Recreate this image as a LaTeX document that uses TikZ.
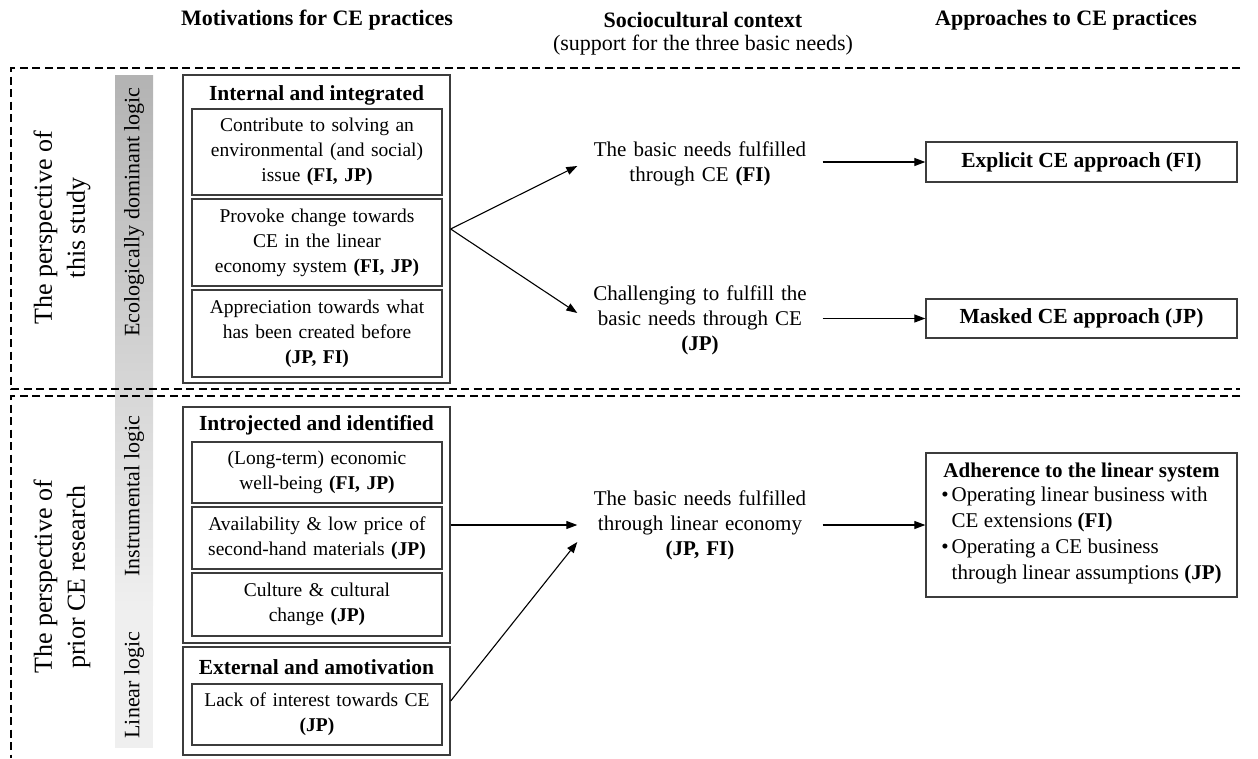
\documentclass[tikz,border=0pt]{standalone}
\usepackage{fontspec}
\setmainfont{Liberation Serif}
\usetikzlibrary{arrows.meta}
\definecolor{boxline}{HTML}{3C3C3C}
\definecolor{bartop}{HTML}{B3B3B3}
\definecolor{barbot}{HTML}{EFEFEF}
\begin{document}
\begin{tikzpicture}[x=1pt,y=-1pt,
  every node/.style={font=\fontsize{21}{25}\selectfont, inner sep=0pt},
  hdr/.style={font=\fontsize{22}{25}\selectfont\bfseries},
  frame/.style={line width=1.8pt, dash pattern=on 8pt off 4.5pt},
  outerbox/.style={draw=boxline, line width=1.3pt, minimum width=267pt},
  innerbox/.style={draw=boxline, line width=1.3pt, minimum width=250pt, text width=244pt, align=center, font=\fontsize{19.5}{25}\selectfont},
  ttl/.style={font=\fontsize{21.5}{25}\selectfont\bfseries},
  midtext/.style={text width=215pt, inner xsep=15pt, align=center},
  rbox/.style={draw=boxline, line width=1.3pt, minimum width=311pt, align=center},
  arr/.style={line width=1.1pt, -{Triangle[length=11pt,width=8pt]}},
  vlabel/.style={rotate=90, font=\fontsize{22}{25}\selectfont},
  persp/.style={rotate=90, align=center, font=\fontsize{26}{33}\selectfont}]
\useasboundingbox (0,0) rectangle (1258,758);
% headers
\node[hdr] (h1) at (317,20) {Motivations for CE practices};
\node[hdr] (h2) at (703,20) {Sociocultural context};
\node[font=\fontsize{22}{25}\selectfont] (h2b) at (703,45) {(support for the three basic needs)};
\node[hdr] (h3) at (1066,20) {Approaches to CE practices};
% grey bars
\shade[top color=bartop, bottom color=barbot] (115,75) rectangle (153,605);
\fill[barbot] (115,605) rectangle (153,748);
% dashed frames
\draw[frame] (1240,68) -- (11,68) -- (11,389) -- (1240,389);
\draw[frame] (1240,396) -- (11,396) -- (11,758);
% vertical labels
\node[vlabel] (l1) at (134,212) {Ecologically dominant logic};
\node[vlabel] (l2) at (134,496) {Instrumental logic};
\node[vlabel] (l3) at (134,685) {Linear logic};
\node[persp] (p1) at (62,228) {The perspective of\\this study};
\node[persp] (p2) at (62,577) {The perspective of\\prior CE research};
% left group 1
\node[outerbox, minimum height=308pt] (o1) at (316.5,229) {};
\node[ttl] (t1) at (316.5,95) {Internal and integrated};
\node[innerbox, minimum height=86pt] (b1) at (317,152) {Contribute to solving an\\environmental (and social)\\issue \textbf{(FI, JP)}};
\node[innerbox, minimum height=87pt] (b2) at (317,242.5) {Provoke change towards\\CE in the linear\\economy system \textbf{(FI, JP)}};
\node[innerbox, minimum height=87pt] (b3) at (317,333.5) {Appreciation towards what\\has been created before\\\textbf{(JP, FI)}};
% left group 2
\node[outerbox, minimum height=236pt] (o2) at (316.5,525) {};
\node[ttl] (t2) at (316.5,425) {Introjected and identified};
\node[innerbox, minimum height=61pt] (c1) at (317,472.5) {(Long-term) economic\\well-being \textbf{(FI, JP)}};
\node[innerbox, minimum height=62pt] (c2) at (317,538) {Availability \& low price of\\second-hand materials \textbf{(JP)}};
\node[innerbox, minimum height=63pt] (c3) at (317,604.5) {Culture \& cultural\\change \textbf{(JP)}};
% left group 3
\node[outerbox, minimum height=108pt] (o3) at (316.5,701) {};
\node[ttl] (t3) at (316.5,667) {External and amotivation};
\node[innerbox, minimum height=61pt] (d1) at (317,714.5) {Lack of interest towards CE\\\textbf{(JP)}};
% middle texts
\node[midtext] (m1) at (700,164) {The basic needs fulfilled\\through CE \textbf{(FI)}};
\node[midtext] (m2) at (700,320) {Challenging to fulfill the\\basic needs through CE\\\textbf{(JP)}};
\node[midtext] (m3) at (700,525) {The basic needs fulfilled\\through linear economy\\\textbf{(JP, FI)}};
% right boxes
\node[rbox, minimum height=40pt, font=\fontsize{21.5}{25}\selectfont\bfseries] (r1) at (1081.5,162) {Explicit CE approach (FI)};
\node[rbox, minimum height=39pt, font=\fontsize{21.5}{25}\selectfont\bfseries] (r2) at (1081.5,318.5) {Masked CE approach (JP)};
\node[rbox, minimum height=144pt] (r3) at (1081.5,525) {\textbf{Adherence to the linear system}\\[1pt]
\renewcommand{\arraystretch}{1.04}%
\begin{tabular}{@{}l@{\hspace{3pt}}l@{}}
\textbullet & Operating linear business with\\
 & CE extensions \textbf{(FI)}\\
\textbullet & Operating a CE business\\
 & through linear assumptions \textbf{(JP)}
\end{tabular}};
% arrows
\draw[arr] (o1.east) -- ([yshift=-2pt]m1.west);
\draw[arr] (o1.east) -- ([yshift=7pt]m2.west);
\draw[arr] (o2.east) -- (m3.west);
\draw[arr] (o3.east) -- ([yshift=-17pt]m3.west);
\draw[arr] (m1.east |- r1.west) -- (r1.west);
\draw[arr] (m2.east |- r2.west) -- (r2.west);
\draw[arr] (m3.east |- r3.west) -- (r3.west);
\end{tikzpicture}
\end{document}
